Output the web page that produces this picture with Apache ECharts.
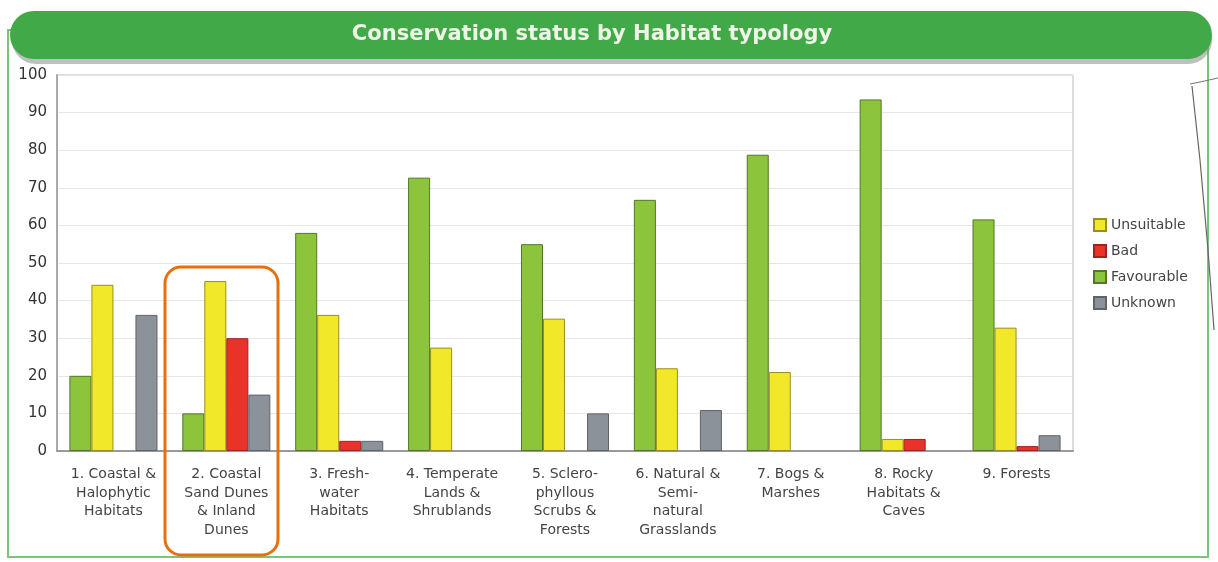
<!DOCTYPE html>
<html>
<head>
<meta charset="utf-8">
<script src="https://cdn.jsdelivr.net/npm/echarts@6/dist/echarts.min.js"></script>
<style>
html,body{margin:0;padding:0;background:#fff;}
#c{width:1218px;height:562px;}
</style>
</head>
<body>
<div id="c"></div>
<script>
const categories = [
  '1. Coastal &\nHalophytic\nHabitats',
  '2. Coastal\nSand Dunes\n& Inland\nDunes',
  '3. Fresh-\nwater\nHabitats',
  '4. Temperate\nLands &\nShrublands',
  '5. Sclero-\nphyllous\nScrubs &\nForests',
  '6. Natural &\nSemi-\nnatural\nGrasslands',
  '7. Bogs &\nMarshes',
  '8. Rocky\nHabitats &\nCaves',
  '9. Forests'
];
const favourable = [20, 10, 58, 72.7, 55, 66.8, 78.8, 93.5, 61.6];
const unsuitable = [44.2, 45.2, 36.2, 27.5, 35.2, 22, 21, 3.2, 32.8];
const bad        = [null, 30, 2.7, null, null, null, null, 3.2, 1.3];
const unknown    = [36.2, 15, 2.7, null, 10, 10.9, null, null, 4.2];
const yTicks = [0, 10, 20, 30, 40, 50, 60, 70, 80, 90, 100];
const titleText = 'Conservation status by Habitat typology';
const legendOrder = ['Unsuitable', 'Bad', 'Favourable', 'Unknown'];

const chart = echarts.init(document.getElementById('c'));
const font = 'DejaVu Sans, Verdana, sans-serif';
function bar(name, data, fill, stroke) {
  return {
    name: name, type: 'bar', data: data,
    barGap: '0%', barCategoryGap: '22%',
    itemStyle: { color: fill, borderColor: stroke, borderWidth: 1 },
    emphasis: { disabled: true }
  };
}
chart.setOption({
  animation: false,
  graphic: [
    { type: 'rect', z: 0, shape: { x: 8, y: 30, width: 1200, height: 527 },
      style: { fill: 'none', stroke: '#7cc47c', lineWidth: 2 } },
    { type: 'polyline', z: 1, shape: { points: [[1190, 84], [1200, 82], [1218, 78]] },
      style: { stroke: '#777', lineWidth: 1.2, fill: 'none' } },
    { type: 'polyline', z: 1, shape: { points: [[1192, 86], [1200, 160], [1208, 250], [1214, 330]] },
      style: { stroke: '#666', lineWidth: 1.2, fill: 'none' } },
    { type: 'rect', z: 1, shape: { x: 12, y: 16, width: 1200, height: 48, r: 24 },
      style: { fill: '#8a8a8a', opacity: 0.55 } },
    { type: 'rect', z: 2, shape: { x: 10, y: 11, width: 1202, height: 48, r: 24 },
      style: { fill: '#41a947' } },
    { type: 'text', z: 3, x: 592, y: 35,
      style: { text: titleText, fill: '#eef5e8', font: 'bold 21px ' + font,
               align: 'center', verticalAlign: 'middle' } },
    { type: 'rect', z: 10, shape: { x: 165, y: 267, width: 113, height: 288, r: 16 },
      style: { fill: 'none', stroke: '#e8700c', lineWidth: 3 } }
  ],
  grid: { left: 57, right: 145, top: 75, bottom: 111, show: true, borderColor: '#b8b8b8', borderWidth: 1, backgroundColor: 'transparent' },
  legend: {
    data: legendOrder, orient: 'vertical', left: 1088, top: 213,
    itemWidth: 12, itemHeight: 12, itemGap: 12, icon: 'rect',
    textStyle: { fontFamily: font, fontSize: 14, color: '#444' }
  },
  xAxis: {
    type: 'category', data: categories,
    axisLine: { lineStyle: { color: '#999', width: 2 } },
    axisTick: { show: false },
    axisLabel: { interval: 0, fontFamily: font, fontSize: 14, color: '#444', lineHeight: 18.7, margin: 14 }
  },
  yAxis: {
    type: 'value', min: yTicks[0], max: yTicks[yTicks.length - 1], interval: 10,
    axisLine: { show: true, lineStyle: { color: '#aaa', width: 2 } },
    axisTick: { show: false },
    splitLine: { lineStyle: { color: '#e6e6e6' } },
    axisLabel: { fontFamily: font, fontSize: 15, color: '#333', margin: 10 }
  },
  series: [
    bar('Favourable', favourable, '#8cc43c', '#55752a'),
    bar('Unsuitable', unsuitable, '#f2e82a', '#9a8f1c'),
    bar('Bad', bad, '#e8322a', '#a02222'),
    bar('Unknown', unknown, '#8c9299', '#5f6468')
  ]
});
</script>
</body>
</html>
